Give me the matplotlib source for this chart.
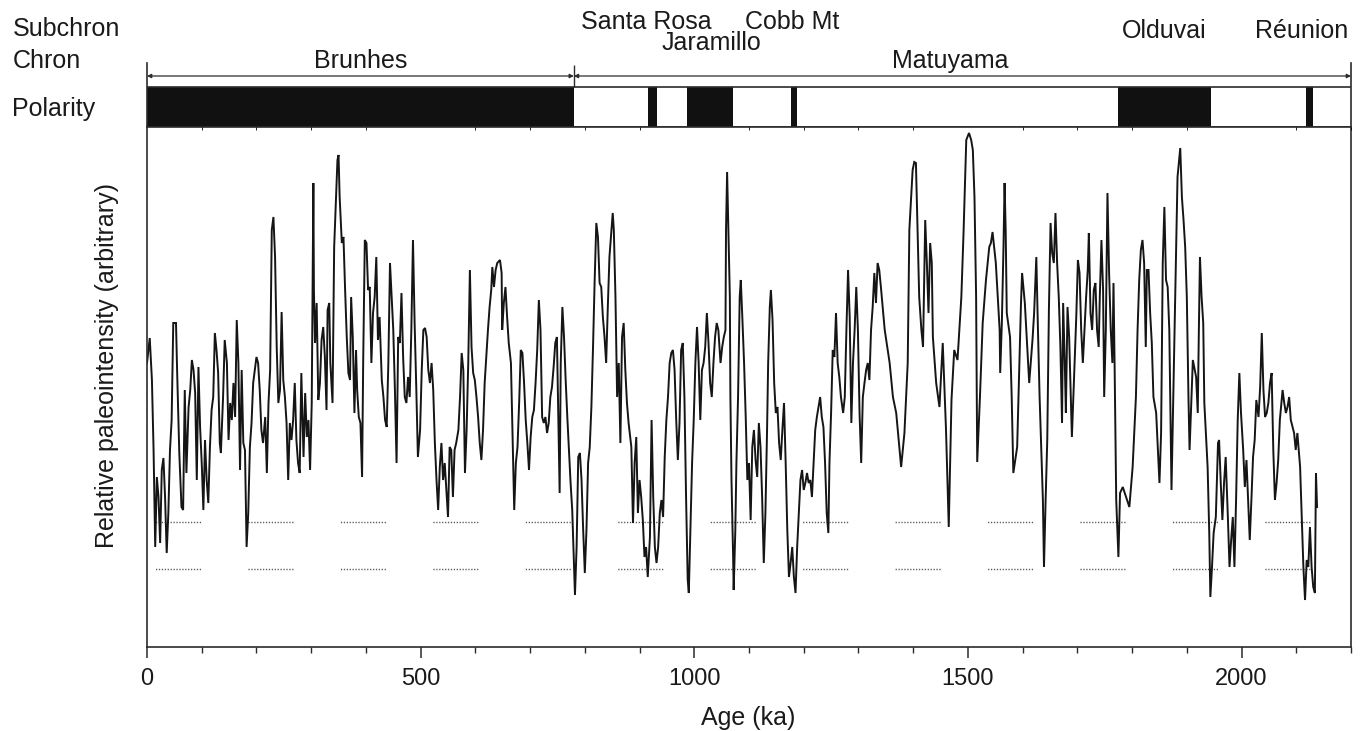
import matplotlib
matplotlib.use("Agg")
import matplotlib.pyplot as plt
from matplotlib.transforms import blended_transform_factory
from matplotlib.ticker import MultipleLocator

plt.rcParams['font.family'] = ['Liberation Sans', 'DejaVu Sans']
plt.rcParams['lines.scale_dashes'] = False

# ---------------- data ----------------
age = [
    0, 5, 9, 12, 15, 18, 21, 24, 27, 30, 33, 36, 39, 42, 45, 48, 53, 55, 59, 63,
    66, 69, 72, 76, 79, 82, 85, 88, 91, 94, 97, 100, 103, 106, 109, 112, 115, 118, 121, 124,
    127, 130, 133, 135, 139, 142, 146, 149, 152, 155, 158, 161, 164, 167, 170, 173, 176, 179, 182, 185,
    188, 191, 194, 197, 200, 203, 206, 209, 212, 216, 219, 222, 225, 228, 231, 234, 237, 240, 243, 246,
    249, 252, 255, 258, 261, 264, 267, 270, 273, 276, 279, 282, 286, 289, 292, 295, 298, 301, 304, 305,
    307, 310, 313, 316, 319, 322, 325, 328, 330, 333, 335, 339, 342, 345, 348, 350, 352, 356, 359, 362,
    365, 368, 371, 373, 376, 379, 382, 384, 387, 390, 393, 395, 398, 401, 404, 407, 410, 413, 416, 419,
    422, 425, 429, 432, 435, 438,
    441, 444, 447, 450, 453, 456, 459, 462, 465, 468, 471, 474, 477, 480, 483, 486, 489, 492, 495, 499,
    502, 505, 508, 511, 514, 517, 520, 523, 526, 529, 532, 535, 538, 541, 544, 547, 550, 553, 556, 559,
    562, 565, 569, 572, 575, 578, 581, 584, 587, 590, 593, 596, 599, 602, 605, 608, 611, 614, 617, 620,
    623, 626, 629, 631, 634, 637, 640, 645, 648, 649, 652, 655, 658, 661, 665, 668, 671, 674, 677, 680,
    683, 686, 689, 692, 695, 698, 701, 704, 707, 710, 713, 716, 719, 722, 725, 728, 731, 734, 737, 740,
    743, 746, 749, 752, 754, 756, 759, 762, 765, 768, 771, 774, 777, 780, 782, 785, 788, 791, 794, 797,
    800, 803, 806, 809, 812, 815, 818, 821, 824, 827, 830, 833, 836, 839, 842, 845, 849, 851, 853, 856,
    859, 862, 865, 868, 871, 874, 877, 880,
    885, 888, 891, 894, 897, 900, 903, 906, 909, 912, 915, 919, 922, 925, 928, 931, 934, 937, 940, 943,
    946, 949, 952, 955, 958, 961, 964, 967, 970, 973, 976, 979, 982, 985, 988, 990, 993, 996, 999, 1002,
    1005, 1008, 1011, 1014, 1017, 1020, 1023, 1026, 1029, 1032, 1035, 1038, 1041, 1044, 1048, 1051, 1054, 1057, 1058, 1060,
    1063, 1065, 1066, 1068, 1071, 1072, 1075, 1077, 1080, 1083, 1085, 1088, 1091, 1094, 1097, 1100, 1103, 1106, 1109, 1112,
    1115, 1118, 1121, 1124, 1127, 1130, 1133, 1135, 1138, 1140, 1143, 1146, 1149, 1152, 1155, 1158, 1161, 1164, 1167, 1170,
    1173, 1176, 1179, 1182, 1185, 1188, 1191, 1194, 1197, 1200, 1203, 1206, 1209, 1212, 1215, 1218, 1221, 1224, 1227, 1230,
    1233, 1236, 1239, 1242, 1245, 1247, 1250, 1253, 1256, 1259, 1262, 1265, 1268, 1272, 1275, 1278, 1281, 1284, 1287, 1290,
    1293, 1296, 1299, 1302, 1305, 1308, 1311, 1314, 1317, 1320, 1323, 1326, 1329, 1332, 1335, 1338,
    1341, 1348, 1357, 1363, 1369, 1378, 1384, 1390, 1393, 1399, 1402, 1405, 1408, 1411, 1415, 1418, 1422, 1425, 1428, 1431,
    1434, 1436, 1442, 1448, 1454, 1460, 1465, 1470, 1475, 1481, 1488, 1492, 1497, 1502, 1506, 1509, 1512, 1515, 1517, 1522,
    1527, 1533, 1539,
    1542, 1545, 1551, 1558, 1559, 1562, 1565, 1567, 1569, 1571, 1577, 1580, 1583, 1590, 1597, 1599, 1604, 1611, 1612, 1618,
    1621, 1625, 1628, 1631, 1637, 1639, 1642, 1645, 1648, 1651, 1654, 1657, 1660, 1663, 1666, 1669, 1672, 1674, 1677, 1679,
    1682, 1685, 1690, 1695, 1698, 1701, 1704, 1707, 1710, 1713, 1716, 1719, 1721, 1724, 1727, 1730, 1733, 1736, 1739, 1741,
    1744, 1747, 1749, 1752, 1755, 1758, 1761, 1764, 1766, 1768, 1771, 1775, 1778, 1783, 1789, 1795, 1801, 1807, 1810, 1813,
    1816, 1819, 1822, 1825, 1827, 1830, 1833, 1836, 1839, 1844, 1850, 1853, 1856, 1859, 1862, 1865, 1868, 1872, 1880, 1883,
    1888, 1891, 1894, 1897, 1900, 1903, 1905, 1911, 1917, 1920, 1922, 1924, 1927, 1930, 1932, 1938, 1941, 1943, 1946, 1949,
    1953, 1957, 1959, 1962, 1965, 1968, 1971, 1975, 1978, 1981, 1984, 1987, 1990, 1993, 1996, 1999, 2003, 2006, 2009, 2012,
    2015, 2018, 2021, 2024, 2027, 2031, 2034, 2037, 2040, 2043, 2046, 2049, 2052, 2055, 2058, 2061, 2064, 2067, 2070, 2075,
    2078, 2081, 2084, 2087, 2090, 2096, 2099, 2102, 2107, 2110, 2113, 2116, 2119, 2122, 2125, 2128, 2131, 2134, 2136, 2138,
]

intensity = [
    2.84, 3.09, 2.67, 1.97, 1.00, 1.70, 1.50, 1.04, 1.77, 1.89, 1.50, 0.94, 1.34, 1.97, 2.27, 3.24, 3.24, 2.77, 1.94, 1.40,
    1.37, 2.57, 1.74, 2.40, 2.57, 2.87, 2.77, 2.54, 1.67, 2.80, 2.20, 1.84, 1.37, 2.07, 1.67, 1.44, 2.00, 2.37, 2.50, 3.14,
    2.97, 2.74, 2.04, 1.94, 2.50, 3.07, 2.84, 2.07, 2.44, 2.27, 2.64, 2.30, 3.27, 2.84, 1.77, 2.77, 2.04, 1.97, 1.00, 1.34,
    2.00, 2.24, 2.64, 2.77, 2.90, 2.84, 2.57, 2.17, 2.04, 2.30, 1.74, 2.44, 2.77, 4.17, 4.30, 3.90, 3.00, 2.44, 2.57, 3.35,
    2.67, 2.50, 2.24, 1.67, 2.24, 2.07, 2.27, 2.64, 2.07, 1.84, 1.74, 2.74, 1.90, 2.54, 2.10, 2.27, 1.77, 2.44, 4.64, 3.57,
    3.04, 3.44, 2.47, 2.64, 3.07, 3.20, 2.90, 2.37, 3.37, 3.44, 2.84, 2.44, 4.00, 4.44, 4.87, 4.92, 4.50, 4.04, 4.10, 3.57,
    3.10, 2.74, 2.67, 3.50, 3.10, 2.34, 2.97, 2.57, 2.30, 2.24, 1.70, 2.84, 4.07, 4.04, 3.57, 3.60, 2.84, 3.34, 3.50, 3.90,
    3.07, 3.30, 2.67, 2.50, 2.27, 2.20,
    2.84, 3.84, 3.50, 3.17, 2.57, 1.84, 3.10, 3.04, 3.54, 2.90, 2.50, 2.44, 2.70, 2.50, 3.17, 4.07, 3.24, 2.60, 1.90, 2.17,
    2.77, 3.17, 3.19, 3.10, 2.77, 2.64, 2.84, 2.57, 2.04, 1.67, 1.37, 1.80, 2.04, 1.67, 1.84, 1.57, 1.30, 2.00, 1.97, 1.50,
    1.97, 2.04, 2.17, 2.50, 2.94, 2.77, 1.74, 2.17, 2.84, 3.77, 3.00, 2.74, 2.67, 2.50, 2.30, 2.04, 1.87, 2.17, 2.64, 2.90,
    3.17, 3.40, 3.57, 3.80, 3.60, 3.77, 3.84, 3.87, 3.74, 3.17, 3.44, 3.60, 3.30, 3.04, 2.84, 2.10, 1.37, 1.84, 2.00, 2.44,
    2.97, 2.94, 2.64, 2.27, 2.04, 1.77, 2.10, 2.30, 2.37, 2.64, 2.97, 3.47, 3.17, 2.30, 2.24, 2.30, 2.14, 2.24, 2.50, 2.60,
    2.80, 3.04, 3.10, 2.17, 1.54, 2.84, 3.40, 3.10, 2.67, 2.30, 1.97, 1.64, 1.37, 0.84, 0.52, 1.00, 1.90, 1.94, 1.67, 1.17,
    0.74, 1.17, 1.84, 2.00, 2.40, 3.00, 3.67, 4.24, 4.10, 3.64, 3.60, 3.30, 3.10, 2.84, 3.40, 3.90, 4.20, 4.34, 4.17, 3.50,
    2.50, 2.84, 2.04, 3.10, 3.24, 2.77, 2.44, 2.24,
    2.00, 1.24, 1.84, 2.10, 1.34, 1.67, 1.50, 1.27, 0.90, 1.00, 0.70, 1.10, 2.27, 1.50, 1.00, 0.84, 1.00, 1.34, 1.47, 1.30,
    1.90, 2.27, 2.50, 2.84, 2.94, 2.97, 2.77, 2.27, 1.87, 2.24, 2.97, 3.04, 2.50, 1.50, 0.67, 0.54, 1.17, 1.84, 2.27, 2.84,
    3.20, 2.84, 2.27, 2.77, 2.84, 3.00, 3.34, 3.04, 2.64, 2.50, 2.84, 3.10, 3.24, 3.17, 2.84, 3.00, 3.10, 3.17, 4.17, 4.75,
    3.97, 3.50, 2.50, 1.67, 0.90, 0.57, 1.17, 1.84, 2.50, 3.50, 3.67, 3.27, 2.84, 2.30, 1.67, 1.84, 1.27, 2.00, 2.17, 1.87,
    1.70, 2.24, 2.00, 1.50, 0.84, 1.34, 2.17, 2.84, 3.40, 3.57, 3.27, 2.64, 2.34, 2.40, 2.04, 1.87, 2.17, 2.44, 1.84, 1.17,
    0.70, 0.84, 1.00, 0.70, 0.54, 1.00, 1.34, 1.67, 1.77, 1.57, 1.64, 1.74, 1.64, 1.67, 1.50, 1.84, 2.17, 2.30, 2.40, 2.50,
    2.30, 2.20, 1.84, 1.34, 1.14, 1.84, 2.34, 2.97, 2.90, 3.34, 2.84, 2.70, 2.50, 2.34, 2.50, 3.17, 3.77, 3.30, 2.24, 2.84,
    3.17, 3.60, 3.17, 2.34, 1.84, 2.50, 2.64, 2.77, 2.84, 2.67, 3.17, 3.40, 3.74, 3.44, 3.84, 3.77,
    3.60, 3.17, 2.84, 2.50, 2.34, 1.80, 2.14, 2.84, 4.17, 4.77, 4.85, 4.84, 4.17, 3.50, 3.17, 3.00, 4.27, 3.84, 3.34, 4.04,
    3.84, 3.10, 2.64, 2.40, 3.04, 2.17, 1.20, 2.47, 2.97, 2.87, 3.50, 4.14, 5.07, 5.14, 5.07, 4.97, 4.50, 3.50, 1.85, 2.50,
    3.24, 3.67, 4.00,
    4.04, 4.15, 3.84, 3.17, 2.74, 3.24, 4.00, 4.64, 4.17, 3.34, 3.10, 2.50, 1.74, 2.00, 3.44, 3.74, 3.44, 2.74, 2.64, 3.07,
    3.34, 3.90, 3.17, 2.50, 1.47, 0.80, 1.47, 2.07, 3.37, 4.24, 3.94, 3.84, 4.34, 3.84, 3.50, 3.00, 2.24, 3.44, 2.84, 2.34,
    3.40, 3.10, 2.10, 2.84, 3.30, 3.87, 3.74, 3.17, 2.84, 3.17, 3.50, 3.77, 4.14, 3.34, 3.17, 3.57, 3.64, 3.17, 3.00, 3.50,
    4.07, 3.57, 2.50, 3.17, 4.54, 3.74, 3.17, 2.84, 3.64, 2.84, 1.47, 0.90, 1.54, 1.60, 1.50, 1.40, 1.80, 2.50, 3.17, 3.67,
    3.97, 4.07, 3.84, 3.00, 3.77, 3.77, 3.34, 3.04, 2.50, 2.34, 1.64, 2.14, 3.84, 4.40, 3.67, 3.60, 3.17, 1.57, 3.84, 4.70,
    4.99, 4.50, 4.27, 4.00, 3.50, 2.50, 1.97, 2.87, 2.70, 2.34, 3.17, 3.90, 3.50, 3.24, 2.44, 1.80, 1.14, 0.50, 0.80, 1.14,
    1.30, 2.04, 2.07, 1.64, 1.27, 1.64, 1.90, 1.30, 0.80, 1.07, 1.30, 0.80, 1.47, 2.27, 2.74, 2.34, 1.97, 1.60, 1.87, 1.47,
    1.07, 1.47, 1.90, 2.07, 2.47, 2.30, 2.60, 3.14, 2.57, 2.30, 2.34, 2.44, 2.64, 2.74, 1.97, 1.47, 1.64, 1.87, 2.27, 2.57,
    2.44, 2.34, 2.40, 2.50, 2.27, 2.14, 1.97, 2.14, 1.80, 1.30, 0.80, 0.47, 0.87, 0.80, 1.20, 0.80, 0.60, 0.54, 1.74, 1.40,
]

# normal-polarity intervals (ka)
normal_intervals = [(0, 780), (915, 932), (986, 1070), (1176, 1187), (1775, 1945), (2118, 2131)]
chron_bounds = [0, 780, 2200]
chron_names = ["Brunhes", "Matuyama"]
chron_label_age = [390, 1468]
subchron_names = ["Santa Rosa", "Jaramillo", "Cobb Mt", "Olduvai", "Réunion"]
subchron_label_age = [913, 1032, 1178, 1859, 2109]
guide_levels = [1.25, 0.78]
xticks = [0, 500, 1000, 1500, 2000]

# ---------------- figure ----------------
W, H = 1372, 731
fig = plt.figure(figsize=(W / 100, H / 100), dpi=100)
fig.patch.set_facecolor('white')

ax = fig.add_axes([147 / W, 84 / H, 1204 / W, 520 / H])
axt = fig.add_axes([147 / W, 1 - 127 / H, 1204 / W, 64 / H], sharex=ax)

spine_col = '#2b2b2b'
ax.plot(age, intensity, color='#151515', lw=1.4, solid_joinstyle='miter')
ax.set_xlim(0, 2200)
ax.set_ylim(0, 5.2)

# dotted guide segments
px2pt = 72 / 100
dots = [0.9, 1.2] * 15 + [0.9]
seg = sum(dots)
period = 92.45 * px2pt
pattern = dots + [period - seg]
style = (period - 8.5 * px2pt, tuple(pattern))
for lev in guide_levels:
    ax.axhline(lev, color='#555555', lw=1.0, linestyle=style, zorder=1)

ax.set_yticks([])
ax.set_xticks(xticks)
ax.xaxis.set_minor_locator(MultipleLocator(100))
ax.tick_params(axis='x', which='major', direction='out', length=8, width=1.1,
               labelsize=17, pad=7, colors=spine_col, labelcolor='#1a1a1a')
ax.tick_params(axis='x', which='minor', direction='out', length=4, width=1.0, colors=spine_col)
for s in ax.spines.values():
    s.set_color(spine_col)
    s.set_linewidth(1.2)

# ---- polarity / chron strip ----
axt.set_ylim(0, 64)
axt.tick_params(left=False, labelleft=False, bottom=False, labelbottom=False)
axt.spines['top'].set_visible(False)
axt.spines['bottom'].set_visible(False)
for s in ('left', 'right'):
    axt.spines[s].set_color(spine_col)
    axt.spines[s].set_linewidth(1.2)
axt.patch.set_alpha(0)

for a, b in normal_intervals:
    axt.fill_between([a, b], 0, 40, color='#111111', lw=0)
axt.hlines([0, 40], 0, 2200, color=spine_col, lw=1.2)

for i in range(len(chron_names)):
    axt.annotate('', xy=(chron_bounds[i], 51), xytext=(chron_bounds[i + 1], 51),
                 arrowprops=dict(arrowstyle='<|-|>', lw=0.9, color=spine_col,
                                 mutation_scale=6, shrinkA=0, shrinkB=0))
axt.vlines(chron_bounds[1], 40, 62, color=spine_col, lw=1.0)

bt = blended_transform_factory(axt.transData, fig.transFigure)
fs = 18
tc = '#1a1a1a'
for name, xa in zip(chron_names, chron_label_age):
    axt.text(xa, 1 - 61 / H, name, transform=bt, ha='center', va='center', fontsize=fs, color=tc)
sub_y = [22, 43, 22, 31, 31]
for name, xa, yy in zip(subchron_names, subchron_label_age, sub_y):
    axt.text(xa, 1 - yy / H, name, transform=bt, ha='center', va='center', fontsize=fs, color=tc)

fig.text(13 / W, 1 - 29 / H, 'Subchron', ha='left', va='center', fontsize=fs, color=tc)
fig.text(13 / W, 1 - 61 / H, 'Chron', ha='left', va='center', fontsize=fs, color=tc)
fig.text(12 / W, 1 - 109 / H, 'Polarity', ha='left', va='center', fontsize=fs, color=tc)
fig.text(107 / W, 1 - 365 / H, 'Relative paleointensity (arbitrary)', rotation=90,
         ha='center', va='center', fontsize=fs, color=tc)
fig.text(748 / W, 1 - 718 / H, 'Age (ka)', ha='center', va='center', fontsize=fs, color=tc)

fig.savefig('out.png', dpi=100, facecolor='white')
